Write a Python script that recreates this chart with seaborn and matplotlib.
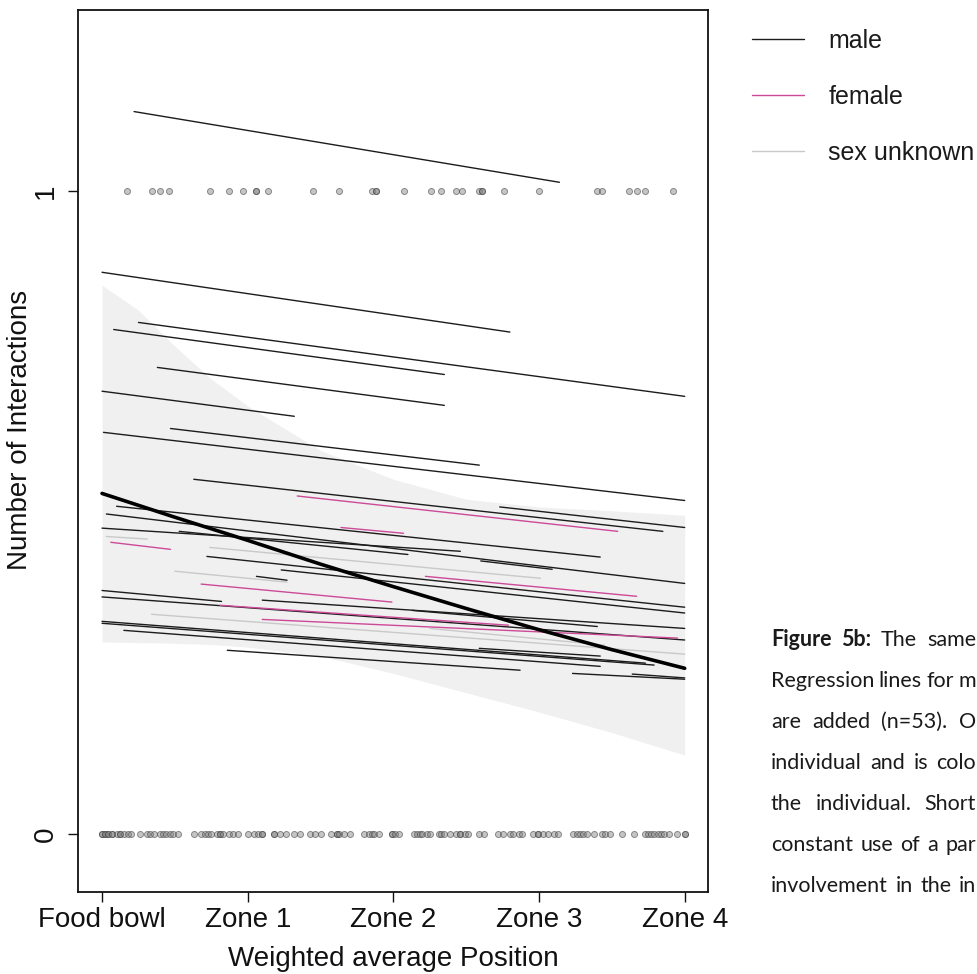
import matplotlib
matplotlib.use("Agg")
import matplotlib.pyplot as plt
from matplotlib.lines import Line2D
import numpy as np
import pandas as pd
import seaborn as sns

# ---------------- data ----------------
zone_positions = [0, 1, 2, 3, 4]
zone_labels = ["Food bowl", "Zone 1", "Zone 2", "Zone 3", "Zone 4"]

# individual regression lines: start/end position, start/end fitted probability, sex
seg_x0 = [0.22, 0.00, 0.25, 0.08, 0.38, 0.00, 0.47, 0.01,
          0.63, 2.73, 1.34, 1.64, 0.10, 0.03, 2.60, 0.00, 0.53, 0.03, 0.06, 0.74,
          0.72, 1.23, 1.06, 0.50, 0.68, 2.22, 0.00, 0.00, 1.10, 0.81, 1.10, 0.34,
          0.00, 0.00, 0.15, 0.86, 3.23, 3.64, 2.13, 2.25, 2.59]
seg_x1 = [3.14, 2.80, 4.00, 2.35, 2.35, 1.32, 2.59, 4.00,
          3.85, 4.00, 3.54, 2.07, 3.42, 4.00, 3.09, 2.46, 2.10, 0.31, 0.47, 3.01,
          4.00, 4.00, 1.27, 1.27, 1.99, 3.67, 0.82, 4.00, 4.00, 2.79, 3.95, 4.00,
          3.73, 3.79, 3.42, 2.87, 4.00, 4.00, 3.40, 3.45, 3.42]
seg_y0 = [1.124, 0.874, 0.796, 0.785, 0.726, 0.689, 0.631, 0.625,
          0.552, 0.509, 0.526, 0.477, 0.510, 0.498, 0.425, 0.476, 0.471, 0.463, 0.454, 0.446,
          0.432, 0.411, 0.401, 0.409, 0.389, 0.401, 0.379, 0.369, 0.364, 0.356, 0.334, 0.342,
          0.331, 0.328, 0.317, 0.286, 0.250, 0.249, 0.348, 0.320, 0.289]
seg_y1 = [1.014, 0.781, 0.681, 0.715, 0.667, 0.650, 0.574, 0.519,
          0.471, 0.477, 0.471, 0.468, 0.431, 0.390, 0.412, 0.440, 0.435, 0.459, 0.443, 0.398,
          0.353, 0.344, 0.395, 0.392, 0.361, 0.370, 0.362, 0.302, 0.320, 0.325, 0.305, 0.280,
          0.266, 0.263, 0.261, 0.255, 0.241, 0.243, 0.323, 0.294, 0.277]
seg_sex = ["male"] * 8 + [
    "male", "male", "female", "female", "male", "male", "male", "male", "male", "sex unknown", "female", "sex unknown",
    "male", "male", "male", "sex unknown", "female", "female", "male", "male", "male", "female", "female", "sex unknown",
    "male", "male", "male", "male", "male", "male", "male", "sex unknown", "male"]

# population-level fit and its confidence band
fit_x = [0, 0.5, 1, 1.5, 2, 2.5, 3, 3.5, 4]
fit_y = [0.530, 0.493, 0.457, 0.420, 0.385, 0.351, 0.318, 0.287, 0.258]
band_x = [0, 0.25, 0.5, 0.75, 1, 1.5, 2, 2.5, 3, 3.5, 4]
band_hi = [0.854, 0.815, 0.759, 0.708, 0.666, 0.597, 0.552, 0.521, 0.509, 0.503, 0.496]
band_lo = [0.299, 0.298, 0.297, 0.295, 0.291, 0.277, 0.250, 0.220, 0.190, 0.158, 0.123]

# observed outcomes (weighted average position of each observation)
obs_pos_1 = [0.17, 0.34, 0.40, 0.46, 0.74, 0.87, 0.97, 1.06, 1.06, 1.14, 1.45, 1.63,
             1.85, 1.88, 1.88, 2.07, 2.26, 2.33, 2.43, 2.47, 2.59, 2.61, 2.61, 2.76,
             3.00, 3.40, 3.43, 3.62, 3.67, 3.73, 3.92]
obs_pos_0 = [0.00, 0.00, 0.02, 0.02, 0.04, 0.04, 0.07, 0.07, 0.10, 0.12, 0.12, 0.15,
             0.18, 0.20, 0.26, 0.31, 0.33, 0.36, 0.40, 0.42, 0.44, 0.47, 0.49, 0.52,
             0.63, 0.68, 0.71, 0.73, 0.75, 0.79, 0.81, 0.81, 0.83, 0.87, 0.90, 0.93,
             1.00, 1.04, 1.07, 1.10, 1.10, 1.18, 1.18, 1.22, 1.26, 1.32, 1.36, 1.43,
             1.46, 1.50, 1.57, 1.61, 1.61, 1.63, 1.66, 1.70, 1.80, 1.83, 1.85, 1.87,
             1.90, 1.99, 1.99, 2.01, 2.04, 2.14, 2.16, 2.18, 2.20, 2.23, 2.25, 2.31,
             2.33, 2.35, 2.39, 2.43, 2.46, 2.46, 2.49, 2.51, 2.59, 2.62, 2.72, 2.75,
             2.80, 2.82, 2.86, 2.88, 2.96, 2.99, 2.99, 3.03, 3.06, 3.10, 3.13, 3.23,
             3.26, 3.28, 3.30, 3.33, 3.38, 3.43, 3.45, 3.49, 3.57, 3.65, 3.73, 3.75,
             3.77, 3.79, 3.82, 3.84, 3.86, 3.89, 3.95, 4.00, 4.00]

sex_order = ["male", "female", "sex unknown"]
sex_colors = {"male": "#1c1c1c", "female": "#cc4a98", "sex unknown": "#c9c9c9"}

caption_lines = [
    "Figure 5b: The same",
    "Regression lines for m",
    "are added (n=53). O",
    "individual and is colo",
    "the individual. Short",
    "constant use of a par",
    "involvement in the in",
]

# ---------------- tables ----------------
rows = []
for i, (a, b, c, d, s) in enumerate(zip(seg_x0, seg_x1, seg_y0, seg_y1, seg_sex)):
    rows.append({"id": i, "x": a, "y": c, "sex": s})
    rows.append({"id": i, "x": b, "y": d, "sex": s})
seg_df = pd.DataFrame(rows)
obs_df = pd.DataFrame({
    "pos": obs_pos_1 + obs_pos_0,
    "interaction": [1] * len(obs_pos_1) + [0] * len(obs_pos_0),
})

# ---------------- figure ----------------
sns.set_theme(style="white")
plt.rcParams["font.family"] = ["Liberation Sans", "DejaVu Sans"]

W, H = 978, 974
fig = plt.figure(figsize=(W / 100, H / 100), dpi=100)
ax = fig.add_axes([78 / W, 1 - 892 / H, 630 / W, 882 / H])

ax.fill_between(band_x, band_lo, band_hi, color="#f0f0f0", linewidth=0, zorder=1)

sns.lineplot(data=seg_df, x="x", y="y", hue="sex", units="id", estimator=None,
             palette=sex_colors, linewidth=1.0, legend=False, sort=False, ax=ax, zorder=2)
sns.lineplot(x=fit_x, y=fit_y, color="black", linewidth=2.6, ax=ax, zorder=3)
sns.scatterplot(data=obs_df, x="pos", y="interaction", s=19,
                facecolor=(0.5, 0.5, 0.5, 0.45), edgecolor=(0.25, 0.25, 0.25, 0.55),
                linewidth=0.7, ax=ax, zorder=4)

ax.set_xlim(-0.165, 4.16)
ax.set_ylim(-0.09, 1.282)
ax.set_xticks(zone_positions)
ax.set_xticklabels(zone_labels)
ax.set_yticks([0, 1])
ax.set_yticklabels(["0", "1"], rotation=90, va="center")

for sp in ax.spines.values():
    sp.set_visible(True)
    sp.set_color("#111111")
    sp.set_linewidth(1.3)
ax.tick_params(axis="both", direction="out", length=7, width=1.0, colors="#111111",
               labelsize=20, bottom=True, left=True)
ax.tick_params(axis="x", pad=4)
ax.tick_params(axis="y", pad=7)

ax.set_xlabel("Weighted average Position", fontsize=20, labelpad=9, color="#111111")
ax.set_ylabel("Number of Interactions", fontsize=20, color="#111111")
ax.yaxis.set_label_coords(-0.071, 0.524)

handles = [Line2D([], [], color=sex_colors[k], linewidth=1.0) for k in sex_order]
fig.legend(handles, sex_order, loc="upper left",
           bbox_to_anchor=(752 / W, 1 - 29 / H), frameon=False, fontsize=18,
           handlelength=2.1, handletextpad=0.95, labelspacing=1.28,
           borderaxespad=0, borderpad=0, labelcolor="#1a1a1a")

# justified caption block on the right
cap_font = ["Lato", "DejaVu Sans"]
cap_size = 15.5
left_px, right_px = 771, 976
fig.canvas.draw()
renderer = fig.canvas.get_renderer()
for i, line in enumerate(caption_lines):
    yy = 1 - (640 + 41 * i) / H
    words = line.split(" ")
    texts = []
    for j, w in enumerate(words):
        bold = (i == 0 and j < 2)
        t = fig.text(0, yy, w, fontsize=cap_size, family=cap_font,
                     fontweight="bold" if bold else "normal",
                     va="center", ha="left", color="#1a1a1a")
        texts.append(t)
    widths = [t.get_window_extent(renderer).width for t in texts]
    gap = (right_px - left_px - sum(widths)) / max(len(words) - 1, 1)
    x = left_px
    for t, wd in zip(texts, widths):
        t.set_x(x / W)
        x += wd + gap

fig.savefig("out.png", dpi=100, facecolor="white")
